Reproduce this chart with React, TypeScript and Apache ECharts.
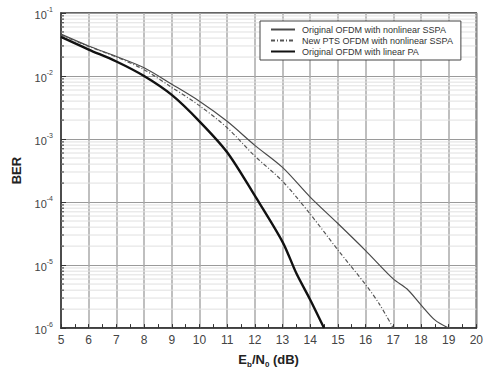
import React, { useEffect, useRef } from "react";
import * as echarts from "echarts";

// Eb/N0 (dB) sample points and BER values
const ebn0Nonlinear = [5, 6, 7, 8, 9, 10, 11, 12, 13, 14, 15, 16, 17, 17.5, 18, 18.5, 19];
const berNonlinear = [4.62e-2, 2.99e-2, 2.04e-2, 1.35e-2, 7.41e-3, 3.98e-3, 1.91e-3, 7.94e-4, 3.55e-4, 1.2e-4, 4.57e-5, 1.7e-5, 6.03e-6, 4.17e-6, 2.34e-6, 1.35e-6, 1.0e-6];

const ebn0Pts = [5, 6, 7, 8, 9, 10, 11, 12, 13, 14, 15, 16, 16.5, 17];
const berPts = [4.47e-2, 2.95e-2, 2.0e-2, 1.26e-2, 6.61e-3, 3.39e-3, 1.51e-3, 5.37e-4, 2.14e-4, 6.46e-5, 1.74e-5, 4.9e-6, 2.4e-6, 1.0e-6];

const ebn0Linear = [5, 6, 7, 8, 9, 10, 11, 12, 13, 13.5, 14, 14.5];
const berLinear = [4.17e-2, 2.63e-2, 1.7e-2, 1.0e-2, 5.01e-3, 1.91e-3, 6.17e-4, 1.26e-4, 2.34e-5, 7.4e-6, 2.82e-6, 1.0e-6];

const seriesNames = [
  "Original OFDM with nonlinear SSPA",
  "New PTS OFDM with nonlinear SSPA",
  "Original OFDM with linear PA",
];

const xMin = 5;
const xMax = 20;
const yMin = 1e-6;
const yMax = 1e-1;
const minorMantissas = [2, 3, 4, 5, 6, 7, 8, 9];
const decades = [1e-6, 1e-5, 1e-4, 1e-3, 1e-2];

const FONT = "Arial, 'Liberation Sans', sans-serif";

function pairs(xs: number[], ys: number[]) {
  return xs.map((x, i) => [x, ys[i]]);
}

export default function App() {
  const ref = useRef<HTMLDivElement>(null);
  useEffect(() => {
    if (!ref.current) return;
    const chart = echarts.init(ref.current, undefined, { renderer: "svg" });
    const minorVals: number[][] = [];
    decades.forEach((d) => minorMantissas.forEach((m) => minorVals.push([xMin, d * m])));

    chart.setOption({
      animation: false,
      backgroundColor: "#fff",
      grid: {
        left: 61,
        top: 13,
        right: 8,
        bottom: 43,
        show: true,
        borderColor: "#333",
        borderWidth: 1.5,
        backgroundColor: "transparent",
      },
      legend: {
        left: 260,
        top: 21,
        orient: "vertical",
        itemWidth: 24,
        itemHeight: 8,
        itemGap: 2,
        padding: [4, 8, 4, 10],
        borderColor: "#444",
        borderWidth: 1,
        backgroundColor: "#fff",
        itemStyle: { opacity: 0 },
        textStyle: { fontSize: 9, color: "#333", fontFamily: FONT, padding: [0, 0, 0, 2] },
        data: seriesNames,
      },
      xAxis: {
        type: "value",
        min: xMin,
        max: xMax,
        interval: 1,
        name: "{a|E}{sub|b}{a|/N}{sub|0}{a| (dB)}",
        nameLocation: "middle",
        nameGap: 18,
        nameTextStyle: {
          rich: {
            a: { fontSize: 13, fontWeight: "bold", color: "#222", fontFamily: FONT, lineHeight: 14, verticalAlign: "top" },
            sub: { fontSize: 8, fontWeight: "bold", color: "#222", fontFamily: FONT, lineHeight: 8, padding: [9, 0, 0, 0] },
          },
        },
        axisLine: { show: true, lineStyle: { color: "#333", width: 1.5 } },
        axisTick: { show: true, inside: true, length: 4, lineStyle: { color: "#333" } },
        minorTick: { show: true, splitNumber: 2, length: 4, lineStyle: { color: "#333" } },
        axisLabel: { fontSize: 12, color: "#444", fontFamily: FONT, margin: 6 },
        splitLine: { show: true, lineStyle: { color: "#aaaaaa", width: 1.5 } },
      },
      yAxis: {
        type: "log",
        logBase: 10,
        min: yMin,
        max: yMax,
        name: "BER",
        nameLocation: "middle",
        nameGap: 38,
        nameRotate: 90,
        nameTextStyle: { fontSize: 13, fontWeight: "bold", color: "#222", fontFamily: FONT },
        axisLine: { show: true, lineStyle: { color: "#333", width: 1.5 } },
        axisTick: { show: true, inside: true, length: 5, lineStyle: { color: "#333" } },
        axisLabel: {
          margin: 8,
          formatter: (v: number) => `{b|10}{s|${Math.round(Math.log10(v))}}`,
          rich: {
            b: { fontSize: 11, color: "#444", fontFamily: FONT, lineHeight: 14, verticalAlign: "bottom" },
            s: { fontSize: 7, color: "#444", fontFamily: FONT, lineHeight: 8, verticalAlign: "top" },
          },
        },
        splitLine: { show: true, lineStyle: { color: "#9a9a9a", width: 1.2 } },
      },
      series: [
        {
          type: "custom",
          silent: true,
          z: 1,
          clip: true,
          data: minorVals,
          encode: { x: 0, y: 1 },
          renderItem: (params: any, api: any) => {
            const v = api.value(1);
            const l = api.coord([xMin, v]);
            const r = api.coord([xMax, v]);
            return {
              type: "group",
              children: [
                { type: "line", shape: { x1: l[0], y1: l[1], x2: r[0], y2: r[1] }, style: { stroke: "#e0e0e0", lineWidth: 1 } },
                { type: "line", shape: { x1: l[0], y1: l[1], x2: l[0] + 3, y2: l[1] }, style: { stroke: "#333", lineWidth: 1 } },
              ],
            };
          },
        },
        {
          name: seriesNames[0],
          type: "line",
          z: 3,
          data: pairs(ebn0Nonlinear, berNonlinear),
          symbol: "none",
          smooth: 0.3,
          lineStyle: { color: "#4a4a4a", width: 1.2, type: "solid" },
          itemStyle: { color: "#4a4a4a" },
        },
        {
          name: seriesNames[1],
          type: "line",
          z: 3,
          data: pairs(ebn0Pts, berPts),
          symbol: "none",
          smooth: 0.3,
          lineStyle: { color: "#555", width: 1.2, type: [4, 2, 1, 2] },
          itemStyle: { color: "#555" },
        },
        {
          name: seriesNames[2],
          type: "line",
          z: 3,
          data: pairs(ebn0Linear, berLinear),
          symbol: "none",
          smooth: 0.3,
          lineStyle: { color: "#111", width: 2.4, type: "solid" },
          itemStyle: { color: "#111" },
        },
      ],
    });
    return () => chart.dispose();
  }, []);
  return <div ref={ref} style={{ width: 486, height: 373, position: "absolute", left: 0, top: 0 }} />;
}
